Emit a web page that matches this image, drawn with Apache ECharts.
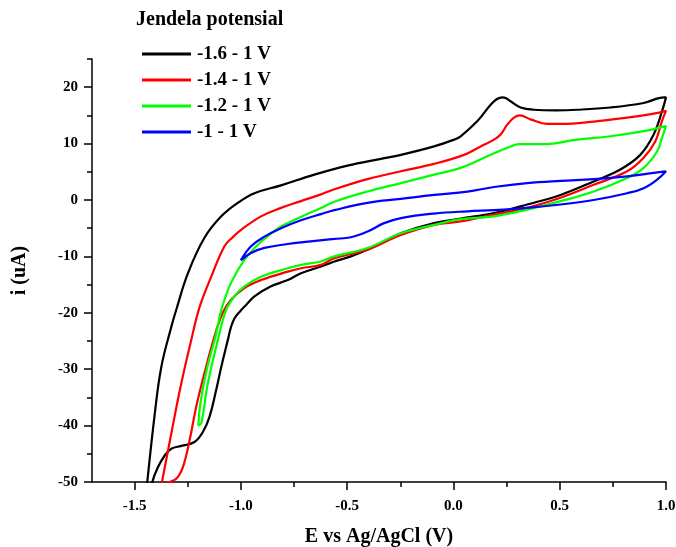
<!DOCTYPE html>
<html>
<head>
<meta charset="utf-8">
<script src="https://cdn.jsdelivr.net/npm/echarts@6/dist/echarts.min.js"></script>
<style>
  html, body { margin: 0; padding: 0; background: #ffffff; }
  #chart { width: 676px; height: 547px; }
</style>
</head>
<body>
<div id="chart"></div>
<script>
// Cyclic voltammograms for four potential windows: each list is one closed
// loop of [E (V vs Ag/AgCl), i (uA)] pairs, anodic sweep first, then cathodic.
const seriesNames = ['-1.6 - 1 V', '-1.4 - 1 V', '-1.2 - 1 V', '-1 - 1 V'];
const seriesColors = ['#000000', '#ff0000', '#00ff00', '#0000ff'];

const cv16 = [
  [-1.47, -62], [-1.455, -56], [-1.44, -50], [-1.406, -38.3], [-1.374, -29.6],
  [-1.327, -22.5], [-1.304, -19.5], [-1.249, -13.0], [-1.171, -6.7], [-1.092, -2.9],
  [-1.014, -0.5], [-0.936, 1.2], [-0.811, 2.6], [-0.654, 4.5], [-0.498, 6.1],
  [-0.341, 7.3], [-0.247, 8.0], [-0.091, 9.5], [0.003, 10.7], [0.034, 11.3],
  [0.113, 14.0], [0.175, 16.9], [0.205, 17.9], [0.23, 18.2], [0.25, 18.0],
  [0.269, 17.5], [0.316, 16.4], [0.378, 16.0], [0.48, 15.9], [0.582, 16.0],
  [0.738, 16.4], [0.895, 17.2], [0.992, 18.2], [1.0, 18.2],
  [0.981, 15.7], [0.942, 11.6], [0.879, 8.0], [0.785, 5.4], [0.66, 3.3],
  [0.504, 0.9], [0.347, -0.8], [0.191, -2.3], [0.034, -3.3], [-0.091, -4.1],
  [-0.247, -5.9], [-0.326, -7.4], [-0.404, -8.8], [-0.482, -10.0], [-0.56, -10.9],
  [-0.623, -11.8], [-0.717, -13.0], [-0.779, -14.2], [-0.858, -15.3], [-0.936, -17.1],
  [-0.975, -18.6], [-1.005, -19.8], [-1.03, -21.0], [-1.046, -22.5], [-1.061, -24.8],
  [-1.092, -29.6], [-1.116, -33.7], [-1.147, -38.4], [-1.178, -41.1], [-1.218, -42.9],
  [-1.28, -43.6], [-1.327, -44.1], [-1.358, -45.3], [-1.39, -47.4], [-1.416, -50],
  [-1.43, -54], [-1.46, -62]
];

const cv14 = [
  [-1.40, -54], [-1.385, -52.5], [-1.371, -50], [-1.327, -41.4], [-1.28, -32.5],
  [-1.233, -24.8], [-1.194, -19.0], [-1.139, -13.6], [-1.077, -8.2], [-1.038, -6.6],
  [-0.999, -5.3], [-0.905, -2.9], [-0.811, -1.4], [-0.717, -0.2], [-0.623, 1.0],
  [-0.56, 1.9], [-0.404, 3.7], [-0.247, 5.1], [-0.091, 6.4], [0.05, 8.0],
  [0.128, 9.5], [0.191, 10.7], [0.222, 11.6], [0.254, 13.4], [0.285, 14.6],
  [0.313, 15.0], [0.363, 14.3], [0.441, 13.5], [0.504, 13.5], [0.66, 13.9],
  [0.817, 14.6], [0.942, 15.3], [1.0, 15.8],
  [0.981, 14.0], [0.95, 10.4], [0.895, 7.5], [0.817, 5.1], [0.66, 2.7],
  [0.504, 0.4], [0.347, -1.4], [0.191, -2.6], [0.034, -3.8], [-0.091, -4.4],
  [-0.247, -6.2], [-0.404, -8.8], [-0.56, -10.3], [-0.623, -11.5], [-0.717, -12.1],
  [-0.779, -12.7], [-0.905, -14.2], [-0.983, -15.6], [-1.046, -17.7], [-1.085, -20.0],
  [-1.124, -24.2], [-1.171, -30.7], [-1.21, -36.7], [-1.241, -42.6], [-1.272, -47.3],
  [-1.303, -49.4], [-1.343, -50.2], [-1.38, -52], [-1.40, -54]
];

const cv12 = [
  [-1.2, -40.0], [-1.19, -36.0], [-1.16, -30.0], [-1.115, -23.6], [-1.092, -19.5],
  [-1.046, -14.7], [-0.983, -10.6], [-0.905, -7.4], [-0.811, -4.7], [-0.717, -3.0],
  [-0.623, -1.4], [-0.56, -0.3], [-0.404, 1.5], [-0.247, 3.0], [-0.091, 4.5],
  [0.034, 5.7], [0.191, 8.3], [0.269, 9.5], [0.308, 9.9], [0.425, 9.9],
  [0.582, 10.7], [0.738, 11.3], [0.895, 12.2], [1.0, 13.1],
  [0.981, 11.0], [0.958, 8.6], [0.895, 5.7], [0.817, 3.9], [0.66, 1.5],
  [0.504, -0.2], [0.347, -1.7], [0.191, -2.9], [0.034, -3.4], [-0.091, -4.4],
  [-0.247, -5.9], [-0.404, -8.5], [-0.56, -10.0], [-0.623, -10.9], [-0.717, -11.5],
  [-0.779, -12.1], [-0.905, -13.6], [-0.983, -15.3], [-1.03, -17.1], [-1.069, -19.5],
  [-1.108, -24.8], [-1.155, -32.5], [-1.186, -39.6], [-1.2, -40.0]
];

const cv10 = [
  [-1.0, -10.7], [-0.952, -8.2], [-0.889, -6.5], [-0.811, -5.0], [-0.717, -3.6],
  [-0.623, -2.5], [-0.56, -1.8], [-0.404, -0.5], [-0.247, 0.2], [-0.091, 0.9],
  [0.066, 1.5], [0.191, 2.3], [0.347, 3.0], [0.504, 3.4], [0.66, 3.7],
  [0.817, 4.2], [0.942, 4.8], [1.0, 5.1],
  [0.958, 3.6], [0.895, 2.1], [0.817, 1.2], [0.66, 0.0], [0.504, -0.8],
  [0.347, -1.4], [0.191, -1.8], [0.066, -2.0], [-0.091, -2.4], [-0.247, -3.2],
  [-0.326, -4.1], [-0.404, -5.6], [-0.482, -6.6], [-0.56, -6.9], [-0.717, -7.5],
  [-0.779, -7.8], [-0.889, -8.5], [-0.952, -9.4], [-1.0, -10.7]
];

const loops = [cv16, cv14, cv12, cv10];

// Axis ticks
const xMajorTicks = [-1.5, -1.0, -0.5, 0.0, 0.5, 1.0];
const xMinorTicks = [-1.25, -0.75, -0.25, 0.25, 0.75];
const yMajorTicks = [-50, -40, -30, -20, -10, 0, 10, 20];
const yMinorTicks = [-45, -35, -25, -15, -5, 5, 15, 25];

const FONT = "'Liberation Serif', 'Times New Roman', serif";
const AXIS_LINE = { onZero: false, lineStyle: { color: '#000', width: 1.5 } };
const TICK_STYLE = { color: '#000', width: 1.5 };

const chart = echarts.init(document.getElementById('chart'), null, { renderer: 'canvas' });

chart.setOption({
  animation: false,
  backgroundColor: '#ffffff',
  title: {
    text: 'Jendela potensial',
    left: 131,
    top: 5,
    textStyle: { fontFamily: FONT, fontWeight: 'bold', fontSize: 20, color: '#000' }
  },
  legend: {
    data: seriesNames,
    orient: 'vertical',
    left: 137,
    top: 39,
    icon: 'rect',
    itemWidth: 49,
    itemHeight: 3,
    itemGap: 6,
    selectedMode: false,
    textStyle: {
      fontFamily: FONT, fontWeight: 'bold', fontSize: 19, color: '#000',
      lineHeight: 20, padding: [0, 0, 0, 1]
    }
  },
  grid: {
    left: 92, right: 10, top: 59, bottom: 65,
    containLabel: false, outerBoundsMode: 'none'
  },
  xAxis: [
    {
      type: 'value', min: -1.7, max: 1.0, position: 'bottom',
      axisLine: AXIS_LINE,
      axisTick: { customValues: xMajorTicks, length: 8, lineStyle: TICK_STYLE },
      axisLabel: {
        customValues: xMajorTicks, formatter: v => v.toFixed(1), margin: 17,
        fontFamily: FONT, fontWeight: 'bold', fontSize: 15, color: '#000'
      },
      splitLine: { show: false },
      name: 'E vs Ag/AgCl (V)', nameLocation: 'middle', nameGap: 45,
      nameTextStyle: { fontFamily: FONT, fontWeight: 'bold', fontSize: 20, color: '#000' }
    },
    {
      type: 'value', min: -1.7, max: 1.0, position: 'bottom',
      axisLine: { show: false, onZero: false },
      axisTick: { customValues: xMinorTicks, length: 5, lineStyle: TICK_STYLE },
      axisLabel: { show: false },
      splitLine: { show: false }
    }
  ],
  yAxis: [
    {
      type: 'value', min: -50, max: 25, position: 'left',
      axisLine: AXIS_LINE,
      axisTick: { customValues: yMajorTicks, length: 8, lineStyle: TICK_STYLE },
      axisLabel: {
        customValues: yMajorTicks, formatter: v => String(v), margin: 14,
        fontFamily: FONT, fontWeight: 'bold', fontSize: 15, color: '#000'
      },
      splitLine: { show: false },
      name: 'i (uA)', nameLocation: 'middle', nameRotate: 90, nameGap: 62,
      nameTextStyle: { fontFamily: FONT, fontWeight: 'bold', fontSize: 20, color: '#000' }
    },
    {
      type: 'value', min: -50, max: 25, position: 'left',
      axisLine: { show: false, onZero: false },
      axisTick: { customValues: yMinorTicks, length: 5, lineStyle: TICK_STYLE },
      axisLabel: { show: false },
      splitLine: { show: false }
    }
  ],
  series: loops.map((data, k) => ({
    name: seriesNames[k],
    type: 'line',
    xAxisIndex: 0,
    yAxisIndex: 0,
    data: data,
    symbol: 'none',
    showSymbol: false,
    smooth: 0.4,
    clip: true,
    color: seriesColors[k],
    lineStyle: { color: seriesColors[k], width: 2.2 },
    emphasis: { disabled: true }
  }))
});
</script>
</body>
</html>
